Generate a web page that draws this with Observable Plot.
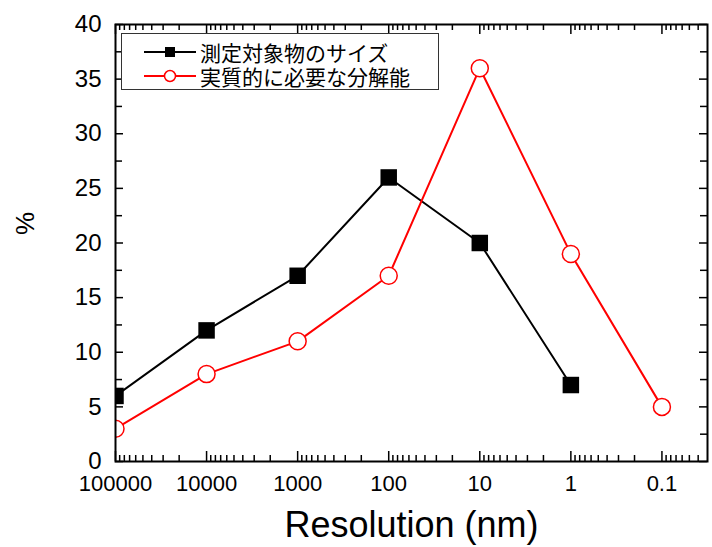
<!DOCTYPE html>
<html><head><meta charset="utf-8">
<script src="https://cdn.jsdelivr.net/npm/d3@7"></script>
<script src="https://cdn.jsdelivr.net/npm/@observablehq/plot@0.6"></script>
<style>
body{margin:0;background:#fff;}
#wrap{position:relative;width:712px;height:547px;}
#legend{position:absolute;left:121px;top:33px;width:318px;height:57px;border:1.5px solid #333;background:#fff;box-sizing:border-box;}
#legend svg{position:absolute;left:0;top:0;}
</style></head><body><div id="wrap"></div>
<script>
// ---- data ----
const resolution = [100000, 10000, 1000, 100, 10, 1, 0.1];
const objectSize = [6, 12, 17, 26, 20, 7, null];   // 測定対象物のサイズ
const requiredRes = [3, 8, 11, 17, 36, 19, 5];     // 実質的に必要な分解能
const seriesNames = ["測定対象物のサイズ", "実質的に必要な分解能"];
const xTickValues = [100000, 10000, 1000, 100, 10, 1, 0.1];
const xTickLabels = ["100000", "10000", "1000", "100", "10", "1", "0.1"];
const yTickValues = [0, 5, 10, 15, 20, 25, 30, 35, 40];
const yMinorTicks = [2.5, 7.5, 12.5, 17.5, 22.5, 27.5, 32.5, 37.5];
const xDomain = [100000, 0.0316];
const yDomain = [0, 40];
const xLabel = "Resolution (nm)";
const yLabel = "%";

const blackData = resolution.map((r, i) => ({r, v: objectSize[i]})).filter(d => d.v != null);
const redData = resolution.map((r, i) => ({r, v: requiredRes[i]}));

const W = 712, H = 547, mL = 115, mR = 5, mT = 24, mB = 86;
const iw = W - mL - mR, ih = H - mT - mB;
const allLogTicks = d3.scaleLog().domain([xDomain[1], xDomain[0]]).ticks();
const xMinor = allLogTicks.filter(t => !xTickValues.some(v => Math.abs(v - t) / v < 1e-9));

const chart = Plot.plot({
  width: W, height: H,
  marginLeft: mL, marginRight: mR, marginTop: mT, marginBottom: mB,
  style: {fontFamily: '"Liberation Sans", Arial, sans-serif', background: "white", color: "black", overflow: "visible"},
  x: {type: "log", domain: xDomain},
  y: {domain: yDomain},
  marks: [
    Plot.axisX(xTickValues, {tickSize: 0, tickPadding: 14, fontSize: 22, label: null,
      tickFormat: d => xTickLabels[xTickValues.indexOf(d)]}),
    Plot.axisY(yTickValues, {tickSize: 0, tickPadding: 14, fontSize: 24, label: null}),
    // inward ticks, bottom & top
    Plot.ruleX(xTickValues, {x: d => d, insetTop: ih - 10, stroke: "black", strokeWidth: 1.5}),
    Plot.ruleX(xTickValues, {x: d => d, insetBottom: ih - 10, stroke: "black", strokeWidth: 1.5}),
    Plot.ruleX(xMinor, {x: d => d, insetTop: ih - 6, stroke: "black", strokeWidth: 1.5}),
    Plot.ruleX(xMinor, {x: d => d, insetBottom: ih - 6, stroke: "black", strokeWidth: 1.5}),
    // inward ticks, left & right
    Plot.ruleY(yTickValues, {y: d => d, insetRight: iw - 8, stroke: "black", strokeWidth: 1.5}),
    Plot.ruleY(yTickValues, {y: d => d, insetLeft: iw - 8, stroke: "black", strokeWidth: 1.5}),
    Plot.ruleY(yMinorTicks, {y: d => d, insetRight: iw - 7, stroke: "black", strokeWidth: 1.5}),
    Plot.ruleY(yMinorTicks, {y: d => d, insetLeft: iw - 7, stroke: "black", strokeWidth: 1.5}),
    // series
    Plot.line(blackData, {x: "r", y: "v", stroke: "black", strokeWidth: 2, clip: true}),
    Plot.dot(blackData, {x: "r", y: "v", symbol: "square", r: 9.3, fill: "black", clip: true}),
    Plot.line(redData, {x: "r", y: "v", stroke: "#ff0000", strokeWidth: 2, clip: true}),
    Plot.dot(redData, {x: "r", y: "v", symbol: "circle", r: 8.5, fill: "white", stroke: "#ff0000", strokeWidth: 1.5, clip: true}),
    Plot.frame({stroke: "black", strokeWidth: 2}),
    // axis titles
    Plot.text([xLabel], {frameAnchor: "bottom", dy: 75, fontSize: 36, fill: "black"}),
    Plot.text([yLabel], {frameAnchor: "left", dx: -90, dy: -8, rotate: -90, fontSize: 26, fill: "black"})
  ]
});
const wrap = document.getElementById("wrap");
wrap.appendChild(chart);

// legend
const lg = document.createElement("div");
lg.id = "legend";
const ns = "http://www.w3.org/2000/svg";
const svg = document.createElementNS(ns, "svg");
svg.setAttribute("width", 318); svg.setAttribute("height", 57);
const rows = [{name: seriesNames[0], color: "black", sym: "square", y: 18}, {name: seriesNames[1], color: "#ff0000", sym: "circle", y: 42}];
for (const r of rows) {
  const ln = document.createElementNS(ns, "line");
  ln.setAttribute("x1", 22); ln.setAttribute("x2", 74); ln.setAttribute("y1", r.y); ln.setAttribute("y2", r.y);
  ln.setAttribute("stroke", r.color); ln.setAttribute("stroke-width", 2);
  svg.appendChild(ln);
  let m;
  if (r.sym === "square") {
    m = document.createElementNS(ns, "rect");
    m.setAttribute("x", 43); m.setAttribute("y", r.y - 5); m.setAttribute("width", 10); m.setAttribute("height", 10);
    m.setAttribute("fill", "black");
  } else {
    m = document.createElementNS(ns, "circle");
    m.setAttribute("cx", 48); m.setAttribute("cy", r.y); m.setAttribute("r", 5.5);
    m.setAttribute("fill", "white"); m.setAttribute("stroke", r.color); m.setAttribute("stroke-width", 1.5);
  }
  svg.appendChild(m);
  const t = document.createElementNS(ns, "text");
  t.setAttribute("x", 78); t.setAttribute("y", r.y); t.setAttribute("dominant-baseline", "central");
  t.setAttribute("font-family", '"Noto Sans CJK JP", sans-serif'); t.setAttribute("font-size", 21);
  t.setAttribute("fill", "black");
  t.textContent = r.name;
  svg.appendChild(t);
}
lg.appendChild(svg);
wrap.appendChild(lg);
</script>
</body></html>
